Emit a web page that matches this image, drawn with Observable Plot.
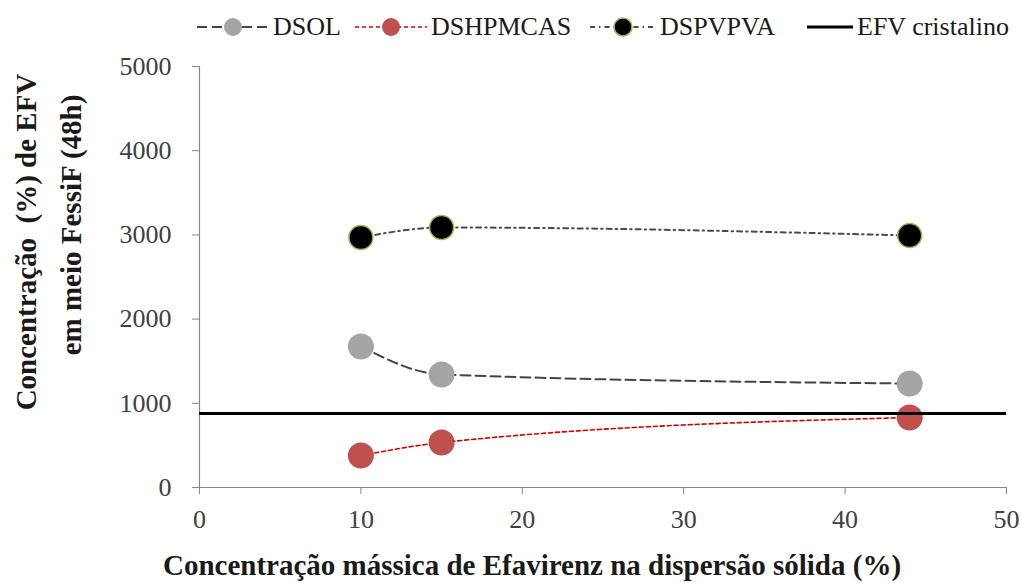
<!DOCTYPE html>
<html><head><meta charset="utf-8">
<script src="https://cdn.jsdelivr.net/npm/d3@7"></script>
<script src="https://cdn.jsdelivr.net/npm/@observablehq/plot@0.6"></script>
<style>
body{margin:0;background:#fff;font-family:"Liberation Serif","Times New Roman","DejaVu Serif",serif;}
#legend{position:relative;height:50px;width:1022px;}
.item{position:absolute;top:0;height:54px;display:flex;align-items:center;font-size:26px;color:#1a1a1a;white-space:nowrap;font-family:"Liberation Serif","Times New Roman","DejaVu Serif",serif;}
.item svg{margin-right:4px;}
#chart svg, #chart text{font-family:"Liberation Serif","Times New Roman","DejaVu Serif",serif !important;}
</style></head><body>
<div id="legend"></div>
<div id="chart"></div>
<script>
// ---- data ----
const massConc = [10, 15, 44];
const dsol = [1675, 1342, 1235];
const dshpmcas = [380, 534, 831];
const dspvpva = [2969, 3088, 2993];
const efvCristalino = [879];
const seriesNames = ["DSOL", "DSHPMCAS", "DSPVPVA", "EFV cristalino"];
const xTicks = [0, 10, 20, 30, 40, 50];
const yTicks = [0, 1000, 2000, 3000, 4000, 5000];
const xTitle = "Concentração mássica de Efavirenz na dispersão sólida (%)";
const yTitle1 = "Concentração  (%) de EFV";
const yTitle2 = "em meio FessiF (48h)";

// ---- styles ----
const styles = [
  {fill: "#a5a5a5", dotStroke: "none", line: "#444444", dash: "10,5", lw: 2},
  {fill: "#c0504d", dotStroke: "none", line: "#d00000", dash: "4,3", lw: 1.6},
  {fill: "#000000", dotStroke: "#9bbb59", line: "#4a4a4a", dash: "5,4,1.5,4", lw: 2},
  {fill: null, dotStroke: null, line: "#000000", dash: null, lw: 3}
];
const legendLeft = [197, 355, 590, 807];
const legendSw = [72, 72, 66, 46];

// ---- legend ----
const legend = document.getElementById("legend");
seriesNames.forEach((name, i) => {
  const s = styles[i];
  const w = legendSw[i];
  const item = document.createElement("div");
  item.className = "item";
  item.style.left = legendLeft[i] + "px";
  let svg = `<svg width="${w}" height="22"><line x1="0" x2="${w}" y1="11" y2="11" stroke="${s.line}" stroke-width="${s.lw}" ${s.dash ? `stroke-dasharray="${s.dash}"` : ""}/>`;
  if (s.fill) svg += `<circle cx="${w/2}" cy="11" r="9" fill="${s.fill}" ${s.dotStroke !== "none" ? `stroke="${s.dotStroke}" stroke-width="1.5"` : ""}/>`;
  svg += `</svg>`;
  item.innerHTML = svg + `<span>${name}</span>`;
  legend.appendChild(item);
});

// ---- chart ----
const rows = s => massConc.map((x, i) => ({x, y: s[i]}));
const seriesData = [dsol, dshpmcas, dspvpva];
const lineMarks = seriesData.map((s, i) => Plot.line(rows(s), {x: "x", y: "y", curve: "monotone-x", stroke: styles[i].line, strokeWidth: styles[i].lw, strokeDasharray: styles[i].dash}));
const dotMarks = seriesData.map((s, i) => Plot.dot(rows(s), {x: "x", y: "y", r: i === 2 ? 12 : 13, fill: styles[i].fill, stroke: styles[i].dotStroke === "none" ? null : styles[i].dotStroke, strokeWidth: 1.5}));

const chart = Plot.plot({
  width: 1022, height: 533,
  marginLeft: 199, marginRight: 16, marginTop: 16, marginBottom: 96,
  style: {fontFamily: "'Liberation Serif', 'Times New Roman', serif", fontSize: "26px", background: "white", color: "#404040"},
  x: {domain: [0, 50], label: null},
  y: {domain: [0, 5000], label: null},
  marks: [
    Plot.ruleY([0], {stroke: "#868686", strokeWidth: 1.2}),
    Plot.ruleX([0], {stroke: "#868686", strokeWidth: 1.2}),
    Plot.axisX({ticks: xTicks, tickSize: 7, tickPadding: 15, stroke: "#868686", fill: "#404040", label: null, tickFormat: "d", fontSize: 26}),
    Plot.axisY({ticks: yTicks, tickSize: 7, tickPadding: 21, stroke: "#868686", fill: "#404040", label: null, tickFormat: "d", fontSize: 26}),
    ...lineMarks,
    ...dotMarks,
    Plot.ruleY(efvCristalino, {stroke: "#000", strokeWidth: 3}),
    Plot.text([yTitle1], {text: d => d, frameAnchor: "left", textAnchor: "middle", lineAnchor: "middle", rotate: -90, dx: -173, dy: -35, fontWeight: "bold", fontSize: 29, fill: "#1a1a1a"}),
    Plot.text([yTitle2], {text: d => d, frameAnchor: "left", textAnchor: "middle", lineAnchor: "middle", rotate: -90, dx: -128, dy: -52, fontWeight: "bold", fontSize: 29, fill: "#1a1a1a"}),
    Plot.text([xTitle], {text: d => d, frameAnchor: "bottom", textAnchor: "middle", lineAnchor: "middle", dx: -71, dy: 78, fontWeight: "bold", fontSize: 29, fill: "#1a1a1a"})
  ]
});
document.getElementById("chart").appendChild(chart);
</script>
</body></html>
